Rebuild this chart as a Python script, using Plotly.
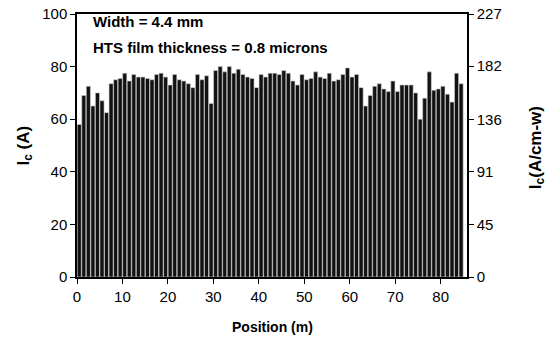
import plotly.graph_objects as go

# Critical current (A) per metre along the tape
ic_values = [
    58, 69, 72.5, 65, 70, 67, 62.5, 73.5, 75, 75.5, 77.5, 74.5, 77, 76,
    76, 75.5, 75, 77, 77.5, 76, 73, 77, 75, 74.5, 73.5, 72, 77, 75, 76.5,
    66, 78.5, 80, 78, 80, 77.5, 79, 77, 76, 75.5, 72, 77, 76, 77.5,
    77.5, 77, 78.5, 77.5, 74.5, 73, 77, 75, 75.5, 78, 76, 75.5, 77.5, 74.5, 75,
    77, 79.5, 76, 77, 72, 65, 69, 72.5, 73.5, 71.5, 70.5, 74.5, 70.5, 73,
    73, 73, 70, 60, 68, 78, 71, 71.5, 72.5, 69.5, 66.5, 77.5, 73.5,
]
positions = [i + 0.5 for i in range(len(ic_values))]

x_ticks = [0, 10, 20, 30, 40, 50, 60, 70, 80]
left_ticks = [0, 20, 40, 60, 80, 100]
right_ticks = [0, 45, 91, 136, 182, 227]
annotation_lines = ["Width = 4.4 mm", "HTS film thickness = 0.8 microns"]
x_title = "Position (m)"
left_title = "I<sub>c</sub> (A)"
right_title = "I<sub>c</sub>(A/cm-w)"

FONT = "Liberation Sans, Arial, sans-serif"
PLOT_H = 343 - 14 - 66
PLOT_W = 552 - 77 - 85

fig = go.Figure()
fig.add_trace(go.Bar(
    x=positions, y=ic_values,
    marker=dict(color="#121212", line=dict(color="#cfcfcf", width=0.6)),
    width=0.9, showlegend=False,
))
# invisible trace to activate right axis
fig.add_trace(go.Scatter(x=[positions[0]], y=[0], yaxis="y2", mode="markers",
                         marker=dict(opacity=0), showlegend=False, hoverinfo="skip"))

common = dict(ticks="outside", ticklen=5, tickwidth=1.2, tickcolor="black",
              showline=True, linecolor="black", linewidth=1.5,
              showgrid=False, zeroline=False, automargin=False,
              tickfont=dict(size=15))

fig.update_layout(
    width=552, height=343,
    margin=dict(l=77, r=85, t=14, b=66, autoexpand=False),
    paper_bgcolor="white", plot_bgcolor="white",
    font=dict(family=FONT, color="black", size=14),
    bargap=0.1,
    xaxis=dict(range=[0, 85.8], tickmode="array", tickvals=x_ticks, mirror=True, **common),
    yaxis=dict(range=[0, 100], tickmode="array", tickvals=left_ticks, **common),
    yaxis2=dict(range=[0, 227], overlaying="y", side="right",
                tickmode="array", tickvals=right_ticks, **common),
)

for i, line in enumerate(annotation_lines):
    fig.add_annotation(
        xref="paper", yref="paper", x=0.035, y=0.97 - i * 0.099,
        xanchor="left", yanchor="middle", showarrow=False,
        text=f"<b>{line}</b>", font=dict(size=15, family=FONT),
    )

# axis titles
fig.add_annotation(xref="paper", yref="paper", x=0.5, y=-(327 - 277) / PLOT_H,
                   xanchor="center", yanchor="middle", showarrow=False,
                   text=f"<b>{x_title}</b>", font=dict(size=14, family=FONT))
fig.add_annotation(xref="paper", yref="paper", x=-(77 - 24) / PLOT_W, y=0.5,
                   xanchor="center", yanchor="middle", showarrow=False, textangle=-90,
                   text=f"<b>{left_title}</b>", font=dict(size=17, family=FONT))
fig.add_annotation(xref="paper", yref="paper", x=1 + (537 - 467) / PLOT_W, y=0.49,
                   xanchor="center", yanchor="middle", showarrow=False, textangle=-90,
                   text=f"<b>{right_title}</b>", font=dict(size=17, family=FONT))

fig.write_html("out.html")
